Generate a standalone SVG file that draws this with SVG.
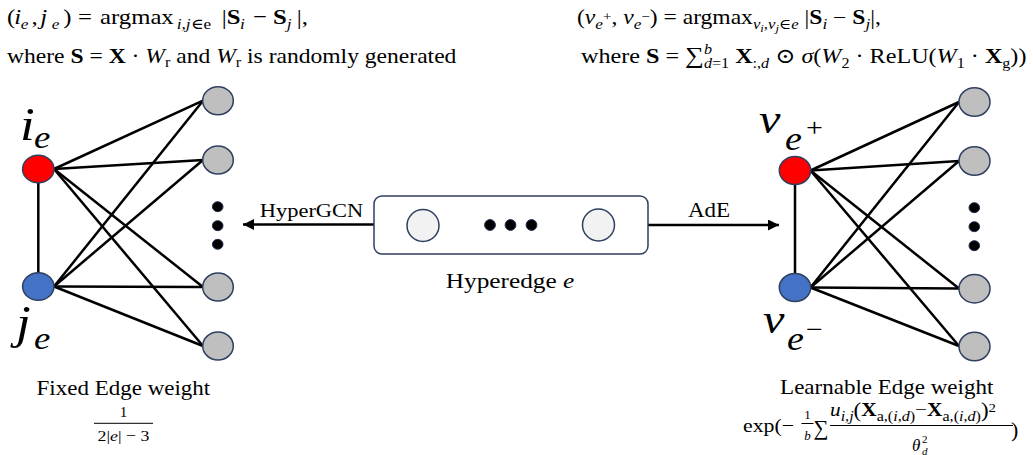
<svg xmlns="http://www.w3.org/2000/svg" width="1033" height="455" viewBox="0 0 1033 455">
<defs>
<style>
text{font-family:"Liberation Serif","DejaVu Serif",serif;fill:#000}
.it{font-style:italic}
.b{font-weight:bold}
.gray{fill:#BFBFBF;stroke:#2F3F5F;stroke-width:1.5}
.red{fill:#FF0000;stroke:#2F3F5F;stroke-width:1.5}
.blue{fill:#4472C4;stroke:#2F3F5F;stroke-width:1.5}
.hn{fill:#F2F2F2;stroke:#2F3F5F;stroke-width:1.5}
.dot{fill:#000;stroke:#1F2F4F;stroke-width:1}
.edge{stroke:#000;stroke-width:2.5;fill:none}
</style>
<marker id="ah" viewBox="0 0 10 10" refX="10" refY="5" markerWidth="11" markerHeight="11" markerUnits="userSpaceOnUse" orient="auto">
<path d="M0,0 L10,5 L0,10 z" fill="#000"/>
</marker>
</defs>
<rect width="1033" height="455" fill="#fff"/>

<!-- top formulas -->
<g id="formula-left">
<g transform="translate(0,24) scale(1.15,1)">
<text font-size="21.5"><tspan x="6.1">(</tspan><tspan class="it" x="12.5">i</tspan><tspan class="it" font-size="15" x="18" dy="5">e</tspan><tspan x="27.3" dy="-5">,</tspan><tspan class="it" x="35">j</tspan><tspan class="it" font-size="15" x="45" dy="5">e</tspan><tspan x="55" dy="-5">)</tspan><tspan x="67.8">=</tspan><tspan x="87">argmax</tspan><tspan font-size="15" x="153.7" dy="5"><tspan class="it">i</tspan>,<tspan class="it">j</tspan>∈e</tspan><tspan x="192.8" dy="-5">|</tspan><tspan class="b" x="197.1">S</tspan><tspan class="it" font-size="15" x="208.7" dy="5">i</tspan><tspan x="220" dy="-5">−</tspan><tspan class="b" x="237.4">S</tspan><tspan class="it" font-size="15" x="249.3" dy="5">j</tspan><tspan x="258" dy="-5">|,</tspan></text>
</g>
<g transform="translate(7,63) scale(1.15,1)">
<text font-size="20.5">where <tspan class="b">S</tspan> = <tspan class="b">X</tspan> · <tspan class="it">W</tspan><tspan font-size="14" dy="4">r</tspan><tspan dy="-4"> and </tspan><tspan class="it">W</tspan><tspan font-size="14" dy="4">r</tspan><tspan dy="-4"> is randomly generated</tspan></text>
</g>
</g>

<g id="formula-right">
<g transform="translate(577,24) scale(1.15,1)">
<text font-size="20.5">(<tspan class="it">v</tspan><tspan class="it" font-size="15" dy="5">e</tspan><tspan font-size="13" dy="-8">+</tspan><tspan dy="3">, </tspan><tspan class="it">v</tspan><tspan class="it" font-size="15" dy="5">e</tspan><tspan font-size="13" dy="-8">−</tspan><tspan dy="3">) = argmax</tspan><tspan font-size="14.5" dy="5"><tspan class="it">v</tspan><tspan font-size="11" dy="3" class="it">i</tspan><tspan dy="-3">,</tspan><tspan class="it">v</tspan><tspan font-size="11" dy="3" class="it">j</tspan><tspan dy="-3">∈</tspan><tspan class="it">e</tspan></tspan><tspan dy="-5"> |</tspan><tspan class="b">S</tspan><tspan class="it" font-size="15" dy="5">i</tspan><tspan dy="-5"> − </tspan><tspan class="b">S</tspan><tspan class="it" font-size="15" dy="5">j</tspan><tspan dy="-5">|,</tspan></text>
</g>
<g transform="translate(581,63) scale(1.15,1)">
<text font-size="21">where <tspan class="b">S</tspan> = <tspan font-size="23">∑</tspan><tspan class="it" font-size="14" dy="-9">b</tspan><tspan font-size="14" dx="-7" dy="14"><tspan class="it">d</tspan>=1</tspan><tspan dy="-5"> </tspan><tspan class="b">X</tspan><tspan font-size="14" dy="5">:,<tspan class="it">d</tspan></tspan><tspan dy="-5"> ⊙ </tspan><tspan class="it">σ</tspan>(<tspan class="it">W</tspan><tspan font-size="14" dy="5">2</tspan><tspan dy="-5"> · ReLU(</tspan><tspan class="it">W</tspan><tspan font-size="14" dy="5">1</tspan><tspan dy="-5"> · </tspan><tspan class="b">X</tspan><tspan font-size="14" dy="5">g</tspan><tspan dy="-5">))</tspan></text>
</g>
</g>

<!-- connectors -->
<g id="connectors">
<line class="edge" x1="38.3" y1="182.5" x2="38.3" y2="273"/>
<line class="edge" x1="54" y1="169" x2="203" y2="100.7"/>
<line class="edge" x1="54" y1="169" x2="203" y2="160"/>
<line class="edge" x1="54" y1="169" x2="203" y2="287"/>
<line class="edge" x1="54" y1="169" x2="203" y2="346"/>
<line class="edge" x1="54" y1="286.5" x2="203" y2="100.7"/>
<line class="edge" x1="54" y1="286.5" x2="203" y2="160"/>
<line class="edge" x1="54" y1="286.5" x2="203" y2="287"/>
<line class="edge" x1="54" y1="286.5" x2="203" y2="346"/>

<line class="edge" x1="795" y1="184" x2="795" y2="274"/>
<line class="edge" x1="810.5" y1="170.5" x2="959" y2="102"/>
<line class="edge" x1="810.5" y1="170.5" x2="959" y2="161"/>
<line class="edge" x1="810.5" y1="170.5" x2="959" y2="288.5"/>
<line class="edge" x1="810.5" y1="170.5" x2="959" y2="346"/>
<line class="edge" x1="810.5" y1="287.5" x2="959" y2="102"/>
<line class="edge" x1="810.5" y1="287.5" x2="959" y2="161"/>
<line class="edge" x1="810.5" y1="287.5" x2="959" y2="288.5"/>
<line class="edge" x1="810.5" y1="287.5" x2="959" y2="346"/>

<line class="edge" x1="374" y1="224.5" x2="243" y2="224.5" marker-end="url(#ah)"/>
<line class="edge" x1="648" y1="225" x2="779" y2="225" marker-end="url(#ah)"/>
<g transform="translate(311.5,216.5) scale(1.15,1)"><text font-size="19.5" text-anchor="middle">HyperGCN</text></g>
<g transform="translate(709,216.5) scale(1.15,1)"><text font-size="20" text-anchor="middle">AdE</text></g>
</g>

<!-- left graph -->
<g id="node-ie">
<ellipse class="red" cx="38.3" cy="169" rx="15.7" ry="13.8"/>
<g transform="translate(20,140) scale(1.15,1)"><text class="it" font-size="46">i</text></g>
<g transform="translate(34,148) scale(1.15,1)"><text class="it" font-size="32">e</text></g>
</g>
<g id="node-je">
<ellipse class="blue" cx="38.3" cy="286.5" rx="15.7" ry="13.8"/>
<g transform="translate(16,338) scale(1.15,1)"><text class="it" font-size="46">j</text></g>
<g transform="translate(34,349) scale(1.15,1)"><text class="it" font-size="32">e</text></g>
</g>
<g id="left-g1"><ellipse class="gray" cx="218" cy="100.7" rx="15.3" ry="14"/></g>
<g id="left-g2"><ellipse class="gray" cx="218" cy="160" rx="15.3" ry="14"/></g>
<g id="left-dots">
<ellipse class="dot" cx="217.7" cy="206.7" rx="5.3" ry="5"/>
<ellipse class="dot" cx="217.7" cy="225.7" rx="5.3" ry="5"/>
<ellipse class="dot" cx="217.7" cy="244.3" rx="5.3" ry="5"/>
</g>
<g id="left-g3"><ellipse class="gray" cx="218" cy="287" rx="15.3" ry="14"/></g>
<g id="left-g4"><ellipse class="gray" cx="218" cy="346" rx="15.3" ry="14"/></g>

<!-- right graph -->
<g id="node-vplus">
<ellipse class="red" cx="795" cy="170.5" rx="15.7" ry="14"/>
<g transform="translate(759,133) scale(1.15,1)"><text class="it" font-size="42">v</text></g>
<g transform="translate(785,150) scale(1.15,1)"><text class="it" font-size="33">e</text></g>
<g transform="translate(806,136) scale(1.15,1)"><text font-size="26">+</text></g>
</g>
<g id="node-vminus">
<ellipse class="blue" cx="795" cy="287.5" rx="15.7" ry="14"/>
<g transform="translate(763,333) scale(1.15,1)"><text class="it" font-size="42">v</text></g>
<g transform="translate(787,350) scale(1.15,1)"><text class="it" font-size="33">e</text></g>
<g transform="translate(806,338) scale(1.15,1)"><text font-size="26">−</text></g>
</g>
<g id="right-g1"><ellipse class="gray" cx="974.5" cy="102" rx="15.5" ry="14.3"/></g>
<g id="right-g2"><ellipse class="gray" cx="974.5" cy="161" rx="15.5" ry="14.3"/></g>
<g id="right-dots">
<ellipse class="dot" cx="974.3" cy="207.7" rx="5.3" ry="5"/>
<ellipse class="dot" cx="974.3" cy="226.7" rx="5.3" ry="5"/>
<ellipse class="dot" cx="974.3" cy="245.7" rx="5.3" ry="5"/>
</g>
<g id="right-g3"><ellipse class="gray" cx="974.5" cy="288.7" rx="15.5" ry="14.3"/></g>
<g id="right-g4"><ellipse class="gray" cx="974.5" cy="346.5" rx="15.5" ry="14.3"/></g>

<!-- hyperedge -->
<g id="hyperedge">
<rect x="374" y="196" width="274" height="58" rx="8" ry="8" fill="#fff" stroke="#2F3F5F" stroke-width="1.5"/>
<circle class="hn" cx="423" cy="225.5" r="16"/>
<circle class="dot" cx="490" cy="225" r="5.4"/>
<circle class="dot" cx="510.5" cy="225" r="5.4"/>
<circle class="dot" cx="531.5" cy="225" r="5.4"/>
<circle class="hn" cx="598.5" cy="225" r="16"/>
<g transform="translate(510,288) scale(1.15,1)"><text font-size="22" text-anchor="middle">Hyperedge <tspan class="it">e</tspan></text></g>
</g>

<!-- bottom captions -->
<g id="caption-left">
<g transform="translate(123.4,395) scale(1.15,1)"><text font-size="20" text-anchor="middle">Fixed Edge weight</text></g>
<text font-size="15" x="123.5" y="417" text-anchor="middle">1</text>
<line x1="94" y1="423.3" x2="153" y2="423.3" stroke="#000" stroke-width="1"/>
<g transform="translate(123.5,441) scale(1.15,1)"><text font-size="15.5" text-anchor="middle">2|<tspan class="it">e</tspan>| − 3</text></g>
</g>

<g id="caption-right">
<g transform="translate(886.7,393.5) scale(1.15,1)"><text font-size="20" text-anchor="middle">Learnable Edge weight</text></g>
<g transform="translate(743,432) scale(1.15,1)"><text font-size="19">exp(−</text></g>
<text font-size="13" x="807.5" y="419" text-anchor="middle">1</text>
<line x1="801.5" y1="423.5" x2="813.5" y2="423.5" stroke="#000" stroke-width="1"/>
<text class="it" font-size="13" x="807.5" y="440" text-anchor="middle">b</text>
<text font-size="21" x="813.5" y="435">∑</text>
<g transform="translate(830,416) scale(1.15,1)">
<text font-size="18.5"><tspan class="it">u</tspan><tspan class="it" font-size="14" dy="5">i,j</tspan><tspan font-size="20" dy="-4.5">(</tspan><tspan class="b" dy="-0.5">X</tspan><tspan font-size="14" dy="5">a,(<tspan class="it">i</tspan>,<tspan class="it">d</tspan>)</tspan><tspan dy="-5">−</tspan><tspan class="b">X</tspan><tspan font-size="14" dy="5">a,(<tspan class="it">i</tspan>,<tspan class="it">d</tspan>)</tspan><tspan font-size="20" dy="-4.5">)</tspan><tspan font-size="13" dy="-4.5">2</tspan></text>
</g>
<line x1="830" y1="425.5" x2="1013" y2="425.5" stroke="#000" stroke-width="1"/>
<text class="it" font-size="17" x="912" y="451">θ</text>
<text font-size="11" x="922" y="443">2</text>
<text class="it" font-size="11" x="922" y="455">d</text>
<text font-size="22" x="1011" y="437">)</text>
</g>
</svg>
